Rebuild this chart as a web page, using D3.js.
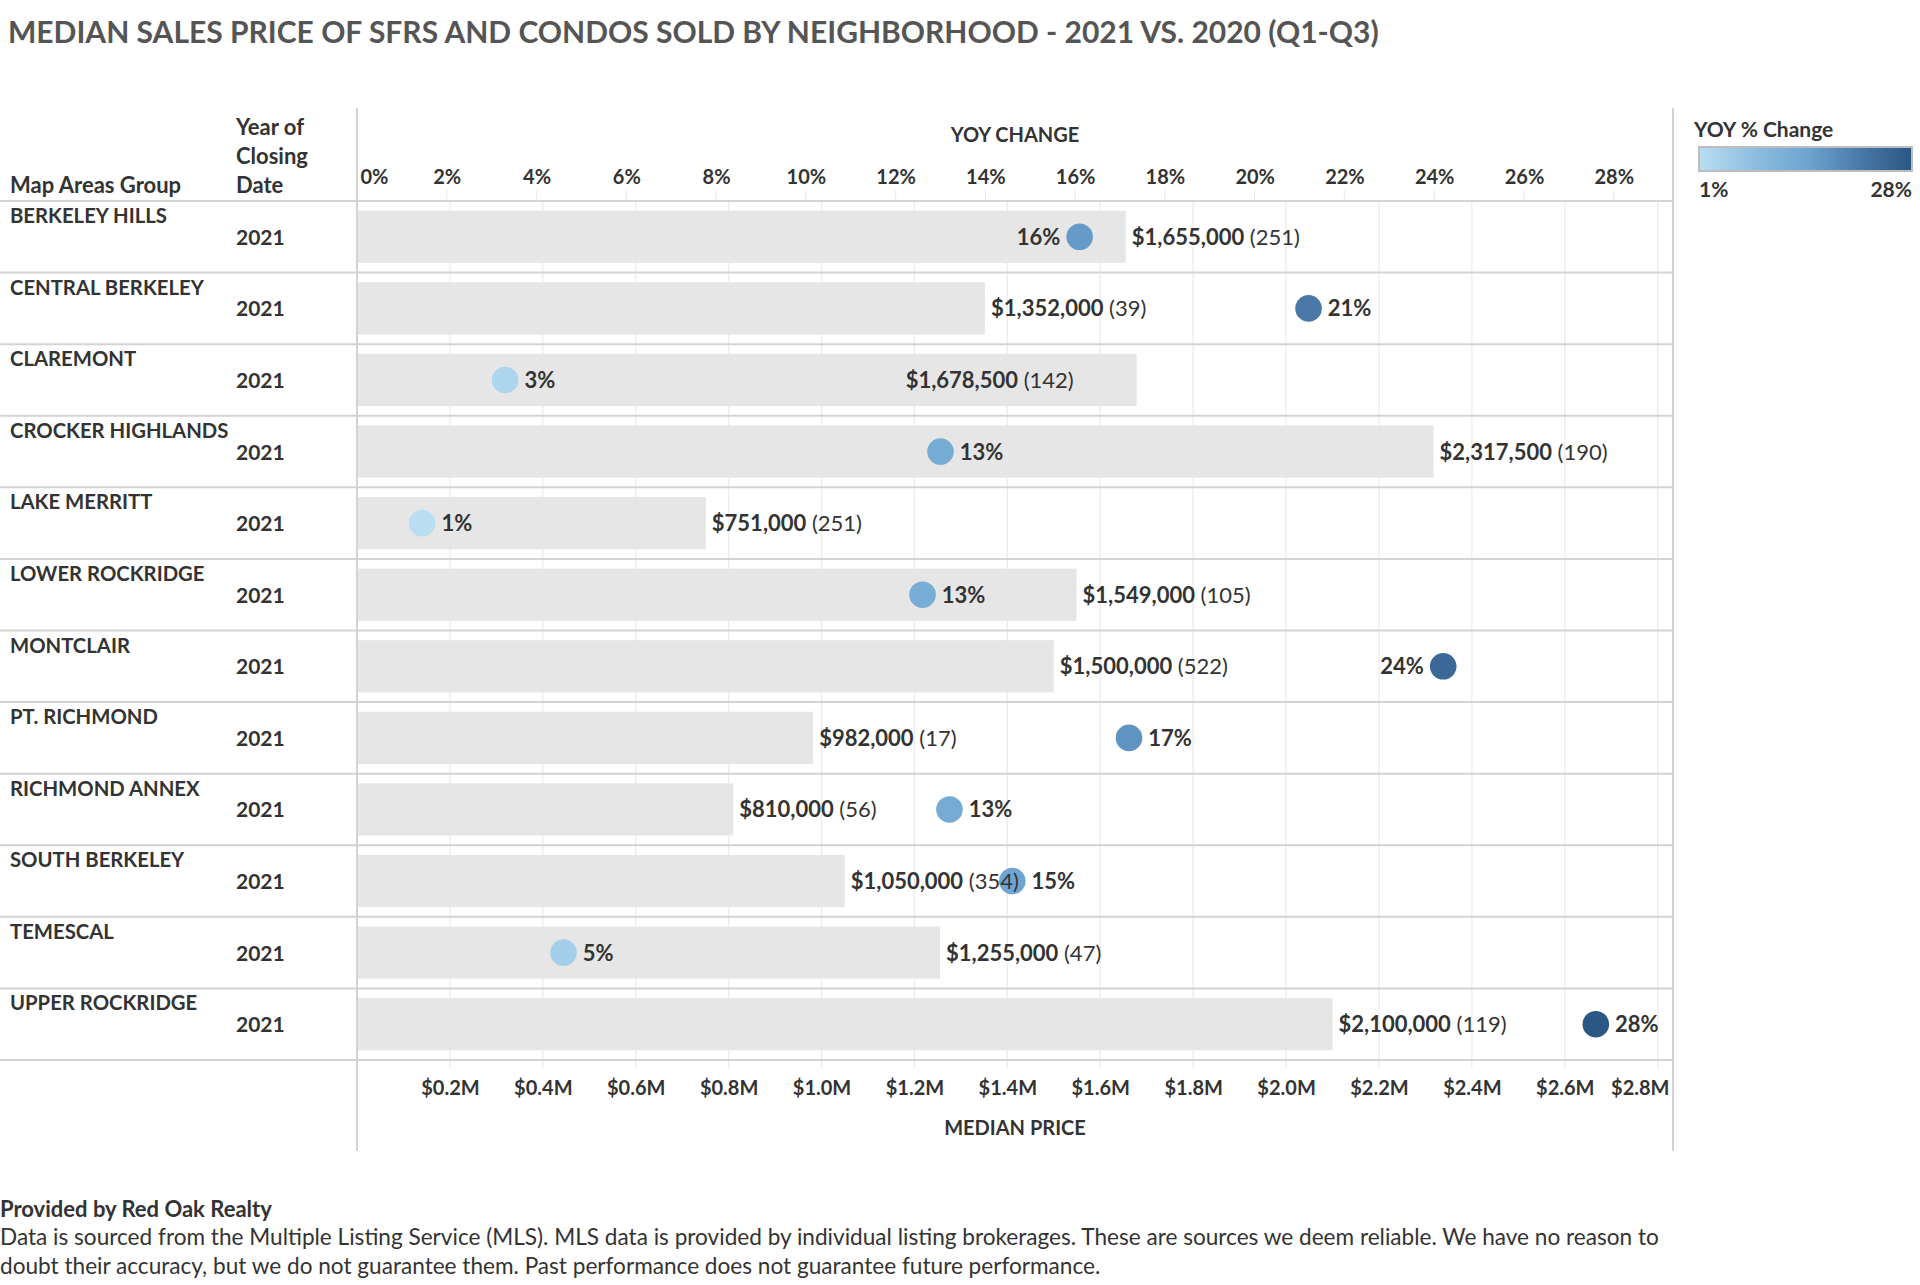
<!DOCTYPE html>
<html>
<head>
<meta charset="utf-8">
<script src="https://cdn.jsdelivr.net/npm/d3@7"></script>
<style>
  html, body { margin: 0; padding: 0; background: #fff; }
  svg { display: block; font-family: Lato, "Open Sans", sans-serif; }
</style>
</head>
<body>
<svg id="chart" width="1920" height="1285"></svg>
<script>
// ---------------- DATA ----------------
const neighborhoods = [
  "BERKELEY HILLS", "CENTRAL BERKELEY", "CLAREMONT", "CROCKER HIGHLANDS",
  "LAKE MERRITT", "LOWER ROCKRIDGE", "MONTCLAIR", "PT. RICHMOND",
  "RICHMOND ANNEX", "SOUTH BERKELEY", "TEMESCAL", "UPPER ROCKRIDGE"
];
const closingYears = ["2021","2021","2021","2021","2021","2021","2021","2021","2021","2021","2021","2021"];
const medianPrice = [1655000, 1352000, 1678500, 2317500, 751000, 1549000, 1500000, 982000, 810000, 1050000, 1255000, 2100000];
const salesCount = [251, 39, 142, 190, 251, 105, 522, 17, 56, 354, 47, 119];
const yoyChange = [16.1, 21.2, 3.3, 13.0, 1.45, 12.6, 24.2, 17.2, 13.2, 14.6, 4.6, 27.6];
const yoyTicks = [0, 2, 4, 6, 8, 10, 12, 14, 16, 18, 20, 22, 24, 26, 28];
const priceTicks = [200000, 400000, 600000, 800000, 1000000, 1200000, 1400000, 1600000, 1800000, 2000000, 2200000, 2400000, 2600000, 2800000];

const titleText = "MEDIAN SALES PRICE OF SFRS AND CONDOS SOLD BY NEIGHBORHOOD - 2021 VS. 2020 (Q1-Q3)";
const footerTitle = "Provided by Red Oak Realty";
const footerLines = [
  "Data is sourced from the Multiple Listing Service (MLS). MLS data is provided by individual listing brokerages. These are sources we deem reliable. We have no reason to",
  "doubt their accuracy, but we do not guarantee them. Past performance does not guarantee future performance."
];

// label placement config (layout, not data)
const pctLabelLeft = new Set(["BERKELEY HILLS", "MONTCLAIR"]);
const priceLabelInside = new Set(["CLAREMONT"]);

// ---------------- LAYOUT ----------------
const plotL = 357, plotR = 1673;
const rowsTop = 201, rowsBottom = 1060;
const frameTop = 108, frameBottom = 1151;
const textColor = "#333333";

const rows = neighborhoods.map((n, i) => ({
  name: n, year: closingYears[i], price: medianPrice[i], count: salesCount[i], yoy: yoyChange[i]
}));

const svg = d3.select("#chart");

const xPrice = d3.scaleLinear().domain([0, 2833000]).range([plotL, plotR]);
const xYoy = d3.scaleLinear().domain([0, 29.32]).range([plotL, plotR]);
const y = d3.scaleBand().domain(neighborhoods).range([rowsTop, rowsBottom]).padding(0);
const barH = y.bandwidth() * 0.73;
const dotR = 13.3;

const yoyExtent = d3.extent(yoyChange);
const color = d3.scaleSequential(d3.piecewise(d3.interpolateRgb, ["#b9ddf1", "#8ebfe2", "#6fa6d0", "#4b7aa9", "#2a5783"]))
  .domain(yoyExtent);

// Title
svg.append("text")
  .attr("x", 8).attr("y", 43)
  .attr("font-size", 30).attr("font-weight", 700)
  .attr("fill", "#555555")
  .text(titleText);

// Gridlines in rows (price axis)
const grid = svg.append("g");
grid.selectAll("line.pg").data(priceTicks).join("line")
  .attr("class", "pg")
  .attr("x1", d => xPrice(d)).attr("x2", d => xPrice(d))
  .attr("y1", rowsTop).attr("y2", rowsBottom + 8)
  .attr("stroke", "#ececec").attr("stroke-width", 1.3);
// Gridline stubs in header (yoy axis)
grid.selectAll("line.yg").data(yoyTicks.filter(d => d > 0)).join("line")
  .attr("class", "yg")
  .attr("x1", d => xYoy(d)).attr("x2", d => xYoy(d))
  .attr("y1", 190).attr("y2", rowsTop)
  .attr("stroke", "#ececec").attr("stroke-width", 1.3);

// Bars
svg.append("g").selectAll("rect").data(rows).join("rect")
  .attr("x", xPrice(0))
  .attr("y", d => y(d.name) + (y.bandwidth() - barH) / 2)
  .attr("width", d => xPrice(d.price) - xPrice(0))
  .attr("height", barH)
  .attr("fill", "#e6e6e6");

// Row separators
const seps = d3.range(neighborhoods.length + 1).map(i => rowsTop + i * y.bandwidth());
svg.append("g").selectAll("line").data(seps).join("line")
  .attr("x1", 0).attr("x2", plotR)
  .attr("y1", d => d).attr("y2", d => d)
  .attr("stroke", "#d3d3d3").attr("stroke-width", 2);

// Frame verticals
svg.append("line").attr("x1", plotL).attr("x2", plotL).attr("y1", frameTop).attr("y2", frameBottom)
  .attr("stroke", "#d3d3d3").attr("stroke-width", 2);
svg.append("line").attr("x1", plotR).attr("x2", plotR).attr("y1", frameTop).attr("y2", frameBottom)
  .attr("stroke", "#d3d3d3").attr("stroke-width", 2);

// Dots
svg.append("g").selectAll("circle").data(rows).join("circle")
  .attr("cx", d => xYoy(d.yoy))
  .attr("cy", d => y(d.name) + y.bandwidth() / 2)
  .attr("r", dotR)
  .attr("fill", d => color(d.yoy));

// Price labels
const fmtPrice = d3.format("$,.0f");
const priceLab = svg.append("g").selectAll("text").data(rows).join("text")
  .attr("x", d => priceLabelInside.has(d.name) ? xPrice(d.price) - 63 : xPrice(d.price) + 6)
  .attr("y", d => y(d.name) + y.bandwidth() / 2 + 8)
  .attr("text-anchor", d => priceLabelInside.has(d.name) ? "end" : "start")
  .attr("font-size", 22).attr("fill", textColor);
priceLab.append("tspan").attr("font-weight", 700).text(d => fmtPrice(d.price));
priceLab.append("tspan").attr("font-weight", 400).text(d => " (" + d.count + ")");

// Pct labels
svg.append("g").selectAll("text").data(rows).join("text")
  .attr("x", d => pctLabelLeft.has(d.name) ? xYoy(d.yoy) - dotR - 6 : xYoy(d.yoy) + dotR + 6)
  .attr("y", d => y(d.name) + y.bandwidth() / 2 + 8)
  .attr("text-anchor", d => pctLabelLeft.has(d.name) ? "end" : "start")
  .attr("font-size", 22).attr("font-weight", 700).attr("fill", textColor)
  .text(d => Math.round(d.yoy) + "%");

// Row headers
const rowHead = svg.append("g");
rowHead.selectAll("text.name").data(rows).join("text")
  .attr("class", "name")
  .attr("x", 10).attr("y", d => y(d.name) + 22)
  .attr("font-size", 20.3).attr("font-weight", 700).attr("fill", textColor)
  .text(d => d.name);
rowHead.selectAll("text.year").data(rows).join("text")
  .attr("class", "year")
  .attr("x", 236).attr("y", d => y(d.name) + y.bandwidth() / 2 + 8)
  .attr("font-size", 21).attr("font-weight", 700).attr("fill", textColor)
  .text(d => d.year);

// Column headers
svg.append("text").attr("x", 10).attr("y", 193)
  .attr("font-size", 22).attr("font-weight", 700).attr("fill", textColor)
  .text("Map Areas Group");
svg.append("text").attr("x", 236).attr("y", 135)
  .attr("font-size", 22).attr("font-weight", 700).attr("fill", textColor)
  .selectAll("tspan").data(["Year of", "Closing", "Date"]).join("tspan")
  .attr("x", 236).attr("dy", (d, i) => i === 0 ? 0 : 29)
  .text(d => d);

// Top axis (YOY CHANGE)
const topAxis = d3.axisTop(xYoy).tickValues(yoyTicks).tickSize(0).tickPadding(0)
  .tickFormat(d => d + "%");
const gTop = svg.append("g").attr("transform", "translate(0,184)").call(topAxis);
gTop.select(".domain").remove();
gTop.selectAll("text")
  .attr("font-family", "Lato, 'Open Sans', sans-serif")
  .attr("font-size", 20).attr("font-weight", 700).attr("fill", textColor)
  .attr("dy", 0)
  .each(function(d) {
    if (d === 0) d3.select(this).attr("text-anchor", "start").attr("dx", 3);
  });
svg.append("text").attr("x", (plotL + plotR) / 2).attr("y", 142)
  .attr("text-anchor", "middle")
  .attr("font-size", 20).attr("font-weight", 700).attr("fill", textColor)
  .text("YOY CHANGE");

// Bottom axis (MEDIAN PRICE)
const botAxis = d3.axisBottom(xPrice).tickValues(priceTicks).tickSize(0).tickPadding(0)
  .tickFormat(d => "$" + (d / 1e6).toFixed(1) + "M");
const gBot = svg.append("g").attr("transform", "translate(0,1095)").call(botAxis);
gBot.select(".domain").remove();
gBot.selectAll("text")
  .attr("font-family", "Lato, 'Open Sans', sans-serif")
  .attr("font-size", 20).attr("font-weight", 700).attr("fill", textColor)
  .attr("dy", 0)
  .each(function(d) {
    if (d === 2800000) d3.select(this).attr("text-anchor", "end")
      .attr("x", plotR - 4 - xPrice(d));
  });
svg.append("text").attr("x", (plotL + plotR) / 2).attr("y", 1135)
  .attr("text-anchor", "middle")
  .attr("font-size", 20).attr("font-weight", 700).attr("fill", textColor)
  .text("MEDIAN PRICE");

// Legend
const legX = 1699, legY = 147, legW = 213, legH = 24;
svg.append("text").attr("x", 1694).attr("y", 137)
  .attr("font-size", 21).attr("font-weight", 700).attr("fill", textColor)
  .text("YOY % Change");
const defs = svg.append("defs");
const grad = defs.append("linearGradient").attr("id", "legGrad");
d3.range(0, 1.0001, 0.1).forEach(t => {
  grad.append("stop").attr("offset", t)
    .attr("stop-color", color(yoyExtent[0] + t * (yoyExtent[1] - yoyExtent[0])));
});
svg.append("rect").attr("x", legX).attr("y", legY).attr("width", legW).attr("height", legH)
  .attr("fill", "url(#legGrad)").attr("stroke", "#bdbdbd").attr("stroke-width", 2);
svg.append("text").attr("x", legX).attr("y", 197)
  .attr("font-size", 21).attr("font-weight", 700).attr("fill", textColor)
  .text(Math.round(yoyExtent[0]) + "%");
svg.append("text").attr("x", legX + legW).attr("y", 197).attr("text-anchor", "end")
  .attr("font-size", 21).attr("font-weight", 700).attr("fill", textColor)
  .text(Math.round(yoyExtent[1]) + "%");

// Footer
svg.append("text").attr("x", 0).attr("y", 1217)
  .attr("font-size", 22).attr("font-weight", 700).attr("fill", textColor)
  .text(footerTitle);
svg.append("g").selectAll("text").data(footerLines).join("text")
  .attr("x", 0).attr("y", (d, i) => 1245 + i * 29)
  .attr("font-size", 22.6).attr("font-weight", 400).attr("fill", textColor)
  .text(d => d);
</script>
</body>
</html>
